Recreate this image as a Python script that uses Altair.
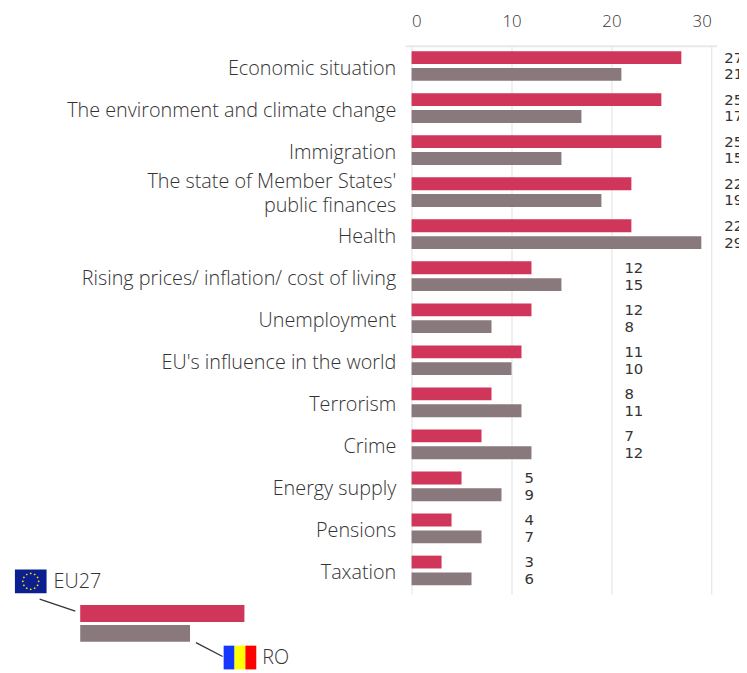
import math
import altair as alt
import pandas as pd

categories = ["Economic situation", "The environment and climate change", "Immigration",
              "The state of Member States'\npublic finances", "Health",
              "Rising prices/ inflation/ cost of living", "Unemployment",
              "EU's influence in the world", "Terrorism", "Crime", "Energy supply",
              "Pensions", "Taxation"]
eu27 = [27, 25, 25, 22, 22, 12, 12, 11, 8, 7, 5, 4, 3]
ro = [21, 17, 15, 19, 29, 15, 8, 10, 11, 12, 9, 7, 6]
x_ticks = [0, 10, 20, 30]

RED, GREY = "#d0355a", "#8a797c"
LABEL_FONT, VALUE_FONT = "Open Sans", "DejaVu Sans"

rows = []
for c, a, b in zip(categories, eu27, ro):
    lx = (max(a, b) // 10 + 1) * 10 + 1.3
    rows.append({"cat": c, "series": "EU27", "value": a, "lx": lx})
    rows.append({"cat": c, "series": "RO", "value": b, "lx": lx})
df = pd.DataFrame(rows)

X0, Y0 = 416, 43
y_enc = alt.Y("cat:N", sort=categories, title=None,
              scale=alt.Scale(paddingInner=0.294, paddingOuter=0.165, align=0.357),
              axis=alt.Axis(domain=False, ticks=False, grid=False, labelPadding=16, labelLimit=400,
                            labelFont=LABEL_FONT, labelFontWeight=300, labelFontSize=20,
                            labelColor="#333333", labelLineHeight=24,
                            labelOffset={"condition": {"test": "indexof(datum.value, 'public') >= 0", "value": -10},
                                         "value": 3},
                            labelExpr="split(datum.label, '\\n')"))
yo_enc = alt.YOffset("series:N", sort=["EU27", "RO"], scale=alt.Scale(paddingInner=0.235, paddingOuter=0))
x_scale = alt.Scale(domain=[0, 30], nice=False)

bars = alt.Chart(df).mark_bar(size=13).encode(
    x=alt.X("value:Q", scale=x_scale, title=None,
            axis=alt.Axis(orient="top", values=x_ticks, domain=False, ticks=False, grid=True,
                          gridColor="#e2e2e2", labelPadding=16, labelFont=LABEL_FONT,
                          labelFontWeight=300, labelFontSize=17, labelColor="#333333")),
    y=y_enc, yOffset=yo_enc,
    color=alt.Color("series:N", scale=alt.Scale(domain=["EU27", "RO"], range=[RED, GREY]), legend=None),
)
labels = alt.Chart(df).mark_text(align="left", baseline="middle", font=VALUE_FONT,
                                 fontSize=15, color="#333333").encode(
    x=alt.X("lx:Q", scale=x_scale), y=y_enc, yOffset=yo_enc, text="value:Q")


def px(x):
    return alt.value(x - X0)


def py(y):
    return alt.value(y - Y0)


def rect(x1, x2, y1, y2, color):
    return alt.Chart(df).mark_rect(color=color).transform_filter("datum.value == 27").encode(
        x=px(x1), x2=px(x2), y=py(y1), y2=py(y2))


def seg(x1, y1, x2, y2, color, w=1.3):
    return alt.Chart(df).mark_rule(color=color, strokeWidth=w).transform_filter("datum.value == 27").encode(
        x=px(x1), x2=px(x2), y=py(y1), y2=py(y2))


def txt(x, y, s):
    return alt.Chart(df).mark_text(text=s, align="left", baseline="middle", font=LABEL_FONT,
                                   fontWeight=300, fontSize=20, color="#333333"
                                   ).transform_filter("datum.value == 27").encode(x=px(x), y=py(y))


deco = [
    seg(410, 43, 725, 43, "#e8e8e8", 2),
    rect(81, 247, 608, 625, RED), rect(81, 192, 628, 645, GREY),
    seg(40, 602, 76, 614, "#333333"), seg(198, 646, 225, 660, "#333333"),
    rect(15, 47, 572, 596, "#0b1f8f"),
    rect(226, 237, 649, 673, "#1438ff"), rect(237, 248, 649, 673, "#ffff00"),
    rect(248, 259, 649, 673, "#ff0000"),
    txt(54, 585, "EU27"), txt(265, 662, "RO"),
]
for i in range(12):
    a = math.radians(i * 30)
    deco.append(alt.Chart(df).mark_point(shape="diamond", filled=True, color="#ffd800", size=5, opacity=1)
                .transform_filter("datum.value == 27")
                .encode(x=px(31 + 8 * math.sin(a)), y=py(584 - 8 * math.cos(a))))

chart = alt.layer(bars, labels, *deco).properties(
    width=303, height=554,
    autosize=alt.AutoSizeParams(type="none"),
    padding={"left": 408, "top": 35, "right": 28, "bottom": 76},
).configure_view(stroke=None)

chart.save("out.html", embed_options={"renderer": "svg", "actions": False})
